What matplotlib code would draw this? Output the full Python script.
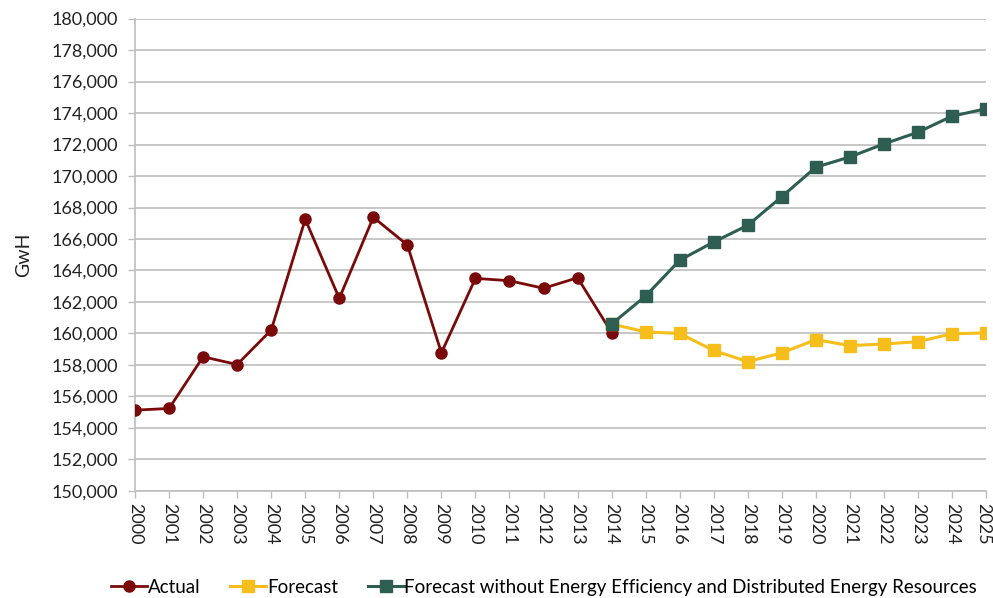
import matplotlib
matplotlib.use("Agg")
import matplotlib.pyplot as plt
from matplotlib.ticker import FuncFormatter, MultipleLocator
from matplotlib.transforms import ScaledTranslation

plt.rcParams['font.family'] = ['Lato', 'DejaVu Sans']

years = list(range(2000, 2026))
actual_years = list(range(2000, 2015))
actual = [155130, 155240, 158520, 158030, 160220, 167250, 162230, 167380, 165620,
          158770, 163500, 163350, 162870, 163540, 160060]
fc_years = list(range(2014, 2026))
forecast = [160600, 160100, 160000, 158920, 158210, 158770, 159610, 159230, 159330,
            159480, 159980, 160040]
no_ee = [160600, 162380, 164650, 165810, 166870, 168690, 170560, 171210, 172040,
         172780, 173800, 174270]

c_act = '#7A0A0A'
c_fc = '#F6BE1A'
c_ne = '#2E5E52'

fig = plt.figure(figsize=(9.93, 5.98), dpi=100)
ax = fig.add_axes([0.136, 0.179, 0.857, 0.790])

ax.plot(actual_years, actual, color=c_act, lw=2, marker='o', ms=8, label='Actual', zorder=3)
ax.plot(fc_years, forecast, color=c_fc, lw=2.2, marker='s', ms=8, label='Forecast', zorder=3)
ax.plot(fc_years, no_ee, color=c_ne, lw=2.2, marker='s', ms=8,
        label='Forecast without Energy Efficiency and Distributed Energy Resources', zorder=4)

ax.set_xlim(2000, 2025)
ax.set_ylim(150000, 180000)
ax.yaxis.set_major_locator(MultipleLocator(2000))
ax.yaxis.set_major_formatter(FuncFormatter(lambda v, p: f"{int(v):,}"))
ax.set_xticks(years)
ax.set_xticklabels([str(y) for y in years], rotation=270)

ax.grid(axis='y', color='#BEBEBE', lw=1.2)
ax.set_axisbelow(True)
for s in ['top', 'right']:
    ax.spines[s].set_visible(False)
for s in ['left', 'bottom']:
    ax.spines[s].set_color('#BEBEBE')
    ax.spines[s].set_linewidth(1.2)
ax.tick_params(axis='both', colors='#BEBEBE', length=5, width=1, labelcolor='#222222', labelsize=13)
ax.tick_params(axis='y', pad=7)
ax.tick_params(axis='x', pad=4)

# keep last year label inside the figure
last = ax.get_xticklabels()[-1]
last.set_transform(last.get_transform() + ScaledTranslation(-3/100, 0, fig.dpi_scale_trans))

ax.set_ylabel('GwH', fontsize=14, color='#222222', labelpad=14)

fig.legend(loc='center', bbox_to_anchor=(0.548, 0.018), ncol=3, frameon=False,
           fontsize=13.5, handlelength=1.9, handletextpad=0.05, columnspacing=1.6,
           borderaxespad=0, markerscale=1.0)

fig.savefig('out.png', dpi=100)
